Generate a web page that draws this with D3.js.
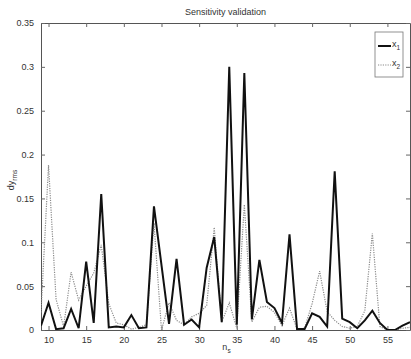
<!DOCTYPE html>
<html>
<head>
<meta charset="utf-8">
<script src="https://cdn.jsdelivr.net/npm/d3@7"></script>
<style>
  body { margin: 0; background: #fff; }
  svg text { font-family: "Liberation Sans", Arial, sans-serif; fill: #333; }
</style>
</head>
<body>
<div id="chart"></div>
<script>
// sample sizes n_s
var ns = d3.range(9, 59);

// dy_rms for x1 (solid) and x2 (dotted)
var x1Values = [0.005, 0.031, 0.001, 0.002, 0.024, 0.002, 0.078, 0.008, 0.155, 0.003,
  0.004, 0.003, 0.017, 0.002, 0.003, 0.141, 0.074, 0.007, 0.081, 0.006,
  0.012, 0.003, 0.071, 0.106, 0.009, 0.300, 0.006, 0.293, 0.012, 0.080,
  0.032, 0.025, 0.008, 0.109, 0.001, 0.001, 0.019, 0.015, 0.004, 0.181,
  0.013, 0.009, 0.002, 0.011, 0.022, 0.008, 0.000, 0.000, 0.005, 0.009];
var x2Values = [0.020, 0.188, 0.035, 0.004, 0.066, 0.034, 0.050, 0.065, 0.097, 0.030,
  0.008, 0.006, 0.001, 0.003, 0.006, 0.122, 0.000, 0.031, 0.011, 0.006,
  0.015, 0.019, 0.028, 0.117, 0.009, 0.031, 0.002, 0.143, 0.009, 0.026,
  0.027, 0.020, 0.005, 0.025, 0.001, 0.002, 0.030, 0.067, 0.021, 0.011,
  0.004, 0.002, 0.004, 0.022, 0.110, 0.004, 0.000, 0.000, 0.002, 0.003];

var xTicks = [10, 15, 20, 25, 30, 35, 40, 45, 50, 55];
var yTicks = [0, 0.05, 0.1, 0.15, 0.2, 0.25, 0.3, 0.35];

var margin = { top: 23, right: 1, bottom: 29, left: 41 },
  width = 411 - margin.left - margin.right,
  height = 359 - margin.top - margin.bottom;

var svg = d3.select("#chart")
  .append("svg")
  .attr("width", 411)
  .attr("height", 359);

var g = svg.append("g")
  .attr("transform", "translate(" + margin.left + "," + margin.top + ")");

var x = d3.scaleLinear().domain([9, 58]).range([0, width]);
var y = d3.scaleLinear().domain([0, 0.35]).range([height, 0]);

// clip so lines stay inside the axes
g.append("clipPath").attr("id", "clip")
  .append("rect").attr("width", width).attr("height", height);

// axes with inward ticks (box on)
var fmt = function (d) { return d === 0 ? "0" : d3.format("")(d); };
var axBottom = g.append("g").attr("transform", "translate(0," + height + ")")
  .call(d3.axisBottom(x).tickValues(xTicks).tickSize(-4).tickPadding(7).tickSizeOuter(0));
var axTop = g.append("g")
  .call(d3.axisTop(x).tickValues(xTicks).tickSize(-4).tickFormat("").tickSizeOuter(0));
var axLeft = g.append("g")
  .call(d3.axisLeft(y).tickValues(yTicks).tickSize(-4).tickPadding(7).tickFormat(fmt).tickSizeOuter(0));
var axRight = g.append("g").attr("transform", "translate(" + width + ",0)")
  .call(d3.axisRight(y).tickValues(yTicks).tickSize(-4).tickFormat("").tickSizeOuter(0));

[axBottom, axTop, axLeft, axRight].forEach(function (a) {
  a.select(".domain").attr("stroke", "#555");
  a.selectAll(".tick line").attr("stroke", "#666");
  a.selectAll("text").style("font-size", "9px").style("fill", "#333");
});

var line = function (vals) {
  return d3.line()
    .x(function (d, i) { return x(ns[i]); })
    .y(function (d) { return y(d); })(vals);
};

var plot = g.append("g").attr("clip-path", "url(#clip)");

plot.append("path")
  .attr("d", line(x2Values))
  .attr("fill", "none")
  .attr("stroke", "#8a8a8a")
  .attr("stroke-width", 1.2)
  .attr("stroke-dasharray", "1.2,1.2");

plot.append("path")
  .attr("d", line(x1Values))
  .attr("fill", "none")
  .attr("stroke", "#111")
  .attr("stroke-width", 2)
  .attr("stroke-linejoin", "miter");

// title and axis labels
svg.append("text")
  .attr("x", margin.left + width / 2)
  .attr("y", 15)
  .attr("text-anchor", "middle")
  .style("font-size", "9px")
  .text("Sensitivity validation");

var xl = svg.append("text")
  .attr("x", margin.left + width / 2 + 1)
  .attr("y", 350)
  .attr("text-anchor", "middle")
  .style("font-size", "9px");
xl.append("tspan").text("n");
xl.append("tspan").attr("dy", 3).style("font-size", "6.5px").text("s");

var yl = svg.append("text")
  .attr("transform", "translate(14,180) rotate(-90)")
  .attr("text-anchor", "middle")
  .style("font-size", "9px");
yl.append("tspan").text("dy");
yl.append("tspan").attr("dy", 3).style("font-size", "6.5px").text("rms");

// legend
var lg = svg.append("g").attr("transform", "translate(375,32)");
lg.append("rect")
  .attr("width", 28).attr("height", 45)
  .attr("fill", "#fff").attr("stroke", "#777").attr("stroke-width", 0.8);
var items = [
  { name: "1", stroke: "#111", w: 2, dash: null, yy: 14 },
  { name: "2", stroke: "#8a8a8a", w: 1.2, dash: "1.2,1.2", yy: 33 }
];
items.forEach(function (it) {
  lg.append("line")
    .attr("x1", 3).attr("x2", 16).attr("y1", it.yy).attr("y2", it.yy)
    .attr("stroke", it.stroke).attr("stroke-width", it.w)
    .attr("stroke-dasharray", it.dash);
  var t = lg.append("text").attr("x", 17).attr("y", it.yy + 1).style("font-size", "9px");
  t.append("tspan").text("x");
  t.append("tspan").attr("dy", 3).style("font-size", "6.5px").text(it.name);
});
</script>
</body>
</html>
